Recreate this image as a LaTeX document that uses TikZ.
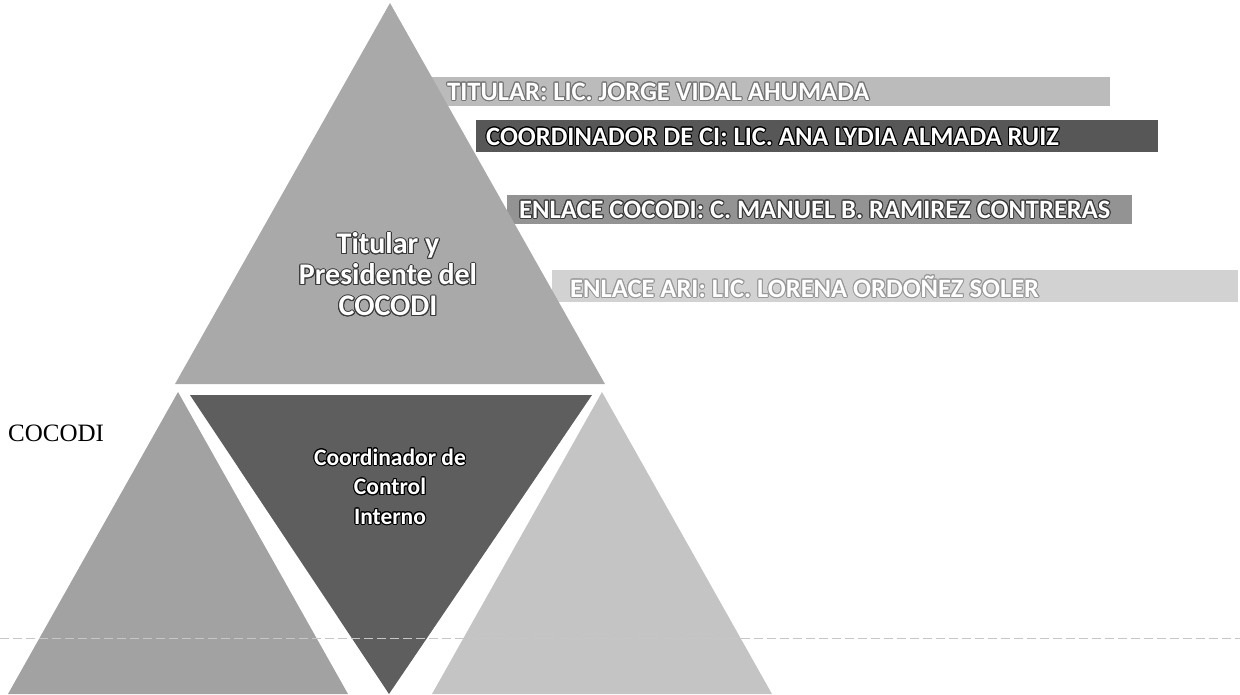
\documentclass[tikz,border=0pt]{standalone}
\usepackage{fontspec}
\setmainfont{Liberation Serif}
\newfontfamily\barfont{Carlito}
\usepackage{contour}
\contourlength{1pt}
\contournumber{16}
\definecolor{toptri}{HTML}{A9A9A9}
\definecolor{lefttri}{HTML}{A2A2A2}
\definecolor{midtri}{HTML}{5E5E5E}
\definecolor{righttri}{HTML}{C4C4C4}
\definecolor{barone}{HTML}{BBBBBB}
\definecolor{bartwo}{HTML}{575757}
\definecolor{barthree}{HTML}{939393}
\definecolor{barfour}{HTML}{D2D2D2}
\definecolor{outl}{HTML}{3A3A3A}
\tikzset{
  bartext/.style={anchor=west, inner sep=0pt, text=white, font=\barfont\bfseries\fontsize{26.5}{30}\selectfont},
  tritext/.style={align=center, inner sep=0pt, text=white},
}
\begin{document}
\begin{tikzpicture}[x=1pt,y=-1pt]
\useasboundingbox (0,0) rectangle (1240,694);
% bars (behind the top triangle)
\fill[barone]   (400,77)  rectangle (1110,106);
\fill[bartwo]   (476,120) rectangle (1158,152);
\fill[barthree] (507,195) rectangle (1132,224);
\fill[barfour]  (552,270) rectangle (1238,302);
% triangles
\fill[toptri]   (390,3) -- (605,384) -- (175,384) -- cycle;
\fill[lefttri]  (178,392) -- (348,694) -- (8,694) -- cycle;
\fill[righttri] (602,392) -- (772,694) -- (432,694) -- cycle;
\fill[midtri]   (190,395) -- (592,395) -- (389,694) -- cycle;
% dashed line
\draw[gray!45, line width=0.8pt, dash pattern=on 9pt off 4pt] (0,638) -- (1240,638);
% texts
\node[bartext] (t1) at (447,92)  {\contour{outl!70}{TITULAR: LIC. JORGE VIDAL AHUMADA}};
\node[bartext] (t2) at (486,137) {\contour{black}{COORDINADOR DE CI: LIC. ANA LYDIA ALMADA RUIZ}};
\node[bartext] (t3) at (519,210) {\contour{outl}{ENLACE COCODI: C. MANUEL B. RAMIREZ CONTRERAS}};
\node[bartext, text=white] (t4) at (570,287) {\contour{gray!80}{ENLACE ARI: LIC. LORENA ORDOÑEZ SOLER}};
\node[tritext, font=\barfont\bfseries\fontsize{30}{31}\selectfont] (top) at (388,275)
  {\contour{outl}{Titular y}\\ \contour{outl}{Presidente del}\\ \contour{outl}{COCODI}};
\node[tritext, font=\barfont\bfseries\fontsize{23.5}{29.5}\selectfont] (mid) at (390,487)
  {\contour{black}{Coordinador de}\\ \contour{black}{Control}\\ \contour{black}{Interno}};
\node[anchor=west, inner sep=0pt, font=\fontsize{25}{29}\selectfont] (cocodi) at (8,433) {COCODI};
\end{tikzpicture}
\end{document}
